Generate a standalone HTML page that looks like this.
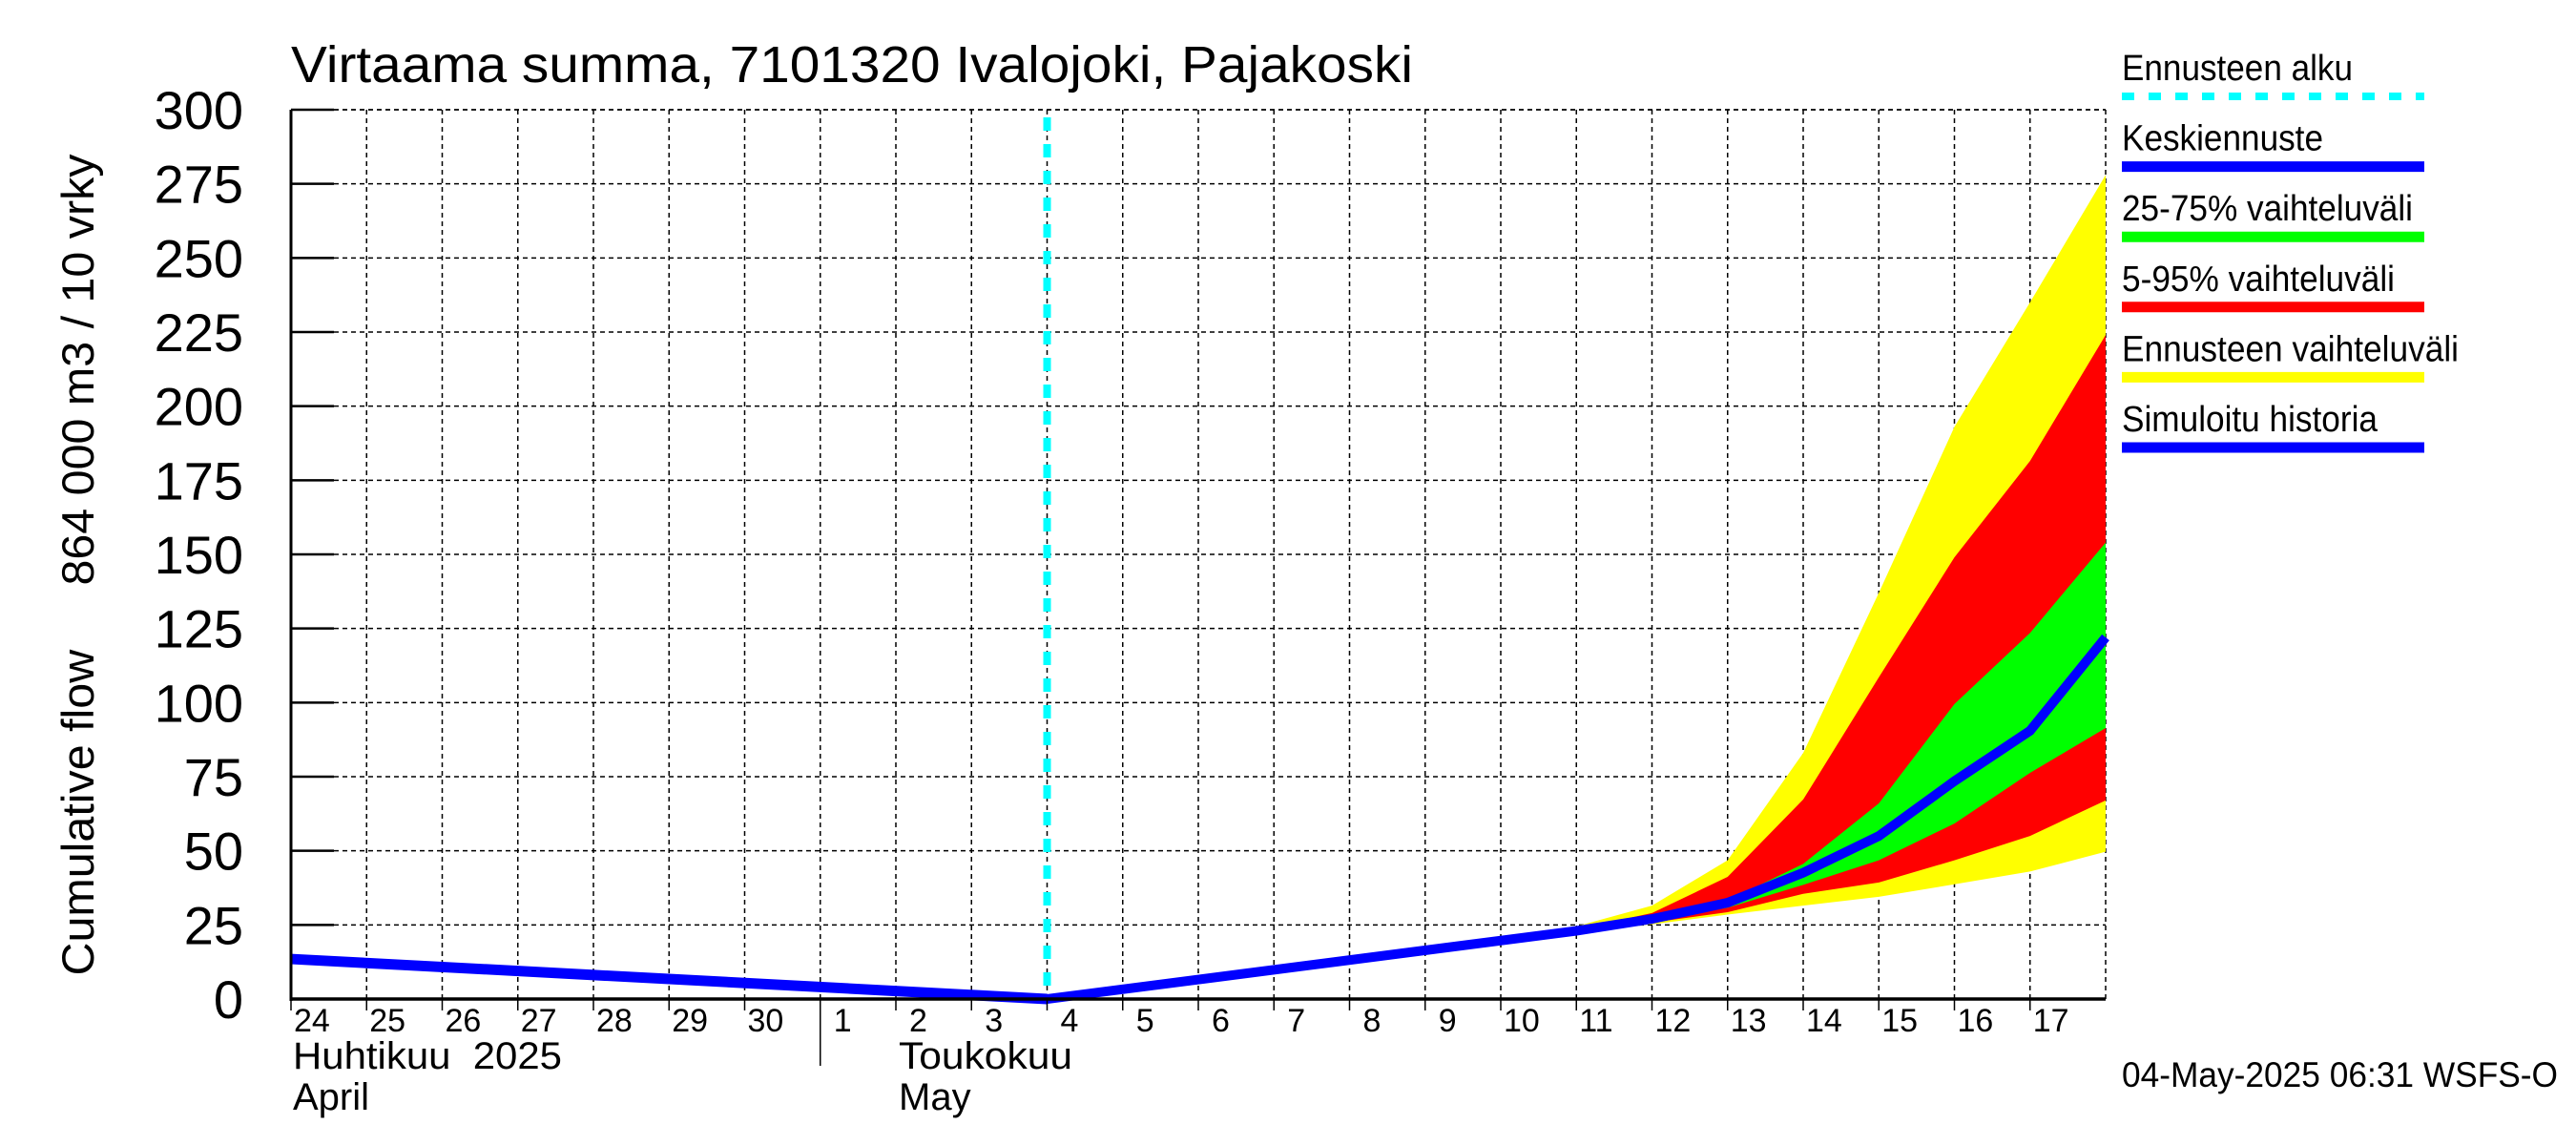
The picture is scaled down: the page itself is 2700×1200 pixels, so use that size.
<!DOCTYPE html>
<html><head><meta charset="utf-8"><style>
html,body{margin:0;padding:0;background:#fff;}
svg{display:block;font-family:"Liberation Sans",sans-serif;}
text{white-space:pre;}
</style></head><body>
<svg id="chart" width="2700" height="1200" viewBox="0 0 2700 1200" xmlns="http://www.w3.org/2000/svg">
<rect width="2700" height="1200" fill="#fff"/>
<g id="grid"></g>
<g id="bands"></g>
<g id="lines"></g>
<g id="axes"></g>
<text x="305" y="86" font-size="54" textLength="1176" lengthAdjust="spacingAndGlyphs">Virtaama summa, 7101320 Ivalojoki, Pajakoski</text>
<text transform="translate(98,592) rotate(-90)" text-anchor="middle" font-size="47" textLength="861" lengthAdjust="spacingAndGlyphs">Cumulative flow     864 000 m3 / 10 vrky</text>
<text x="307" y="1120" font-size="40" textLength="282" lengthAdjust="spacingAndGlyphs">Huhtikuu  2025</text>
<text x="307" y="1163" font-size="40">April</text>
<text x="942" y="1120" font-size="40" textLength="182" lengthAdjust="spacingAndGlyphs">Toukokuu</text>
<text x="942" y="1163" font-size="40">May</text>
<text x="2224" y="1139" font-size="37" textLength="457" lengthAdjust="spacingAndGlyphs">04-May-2025 06:31 WSFS-O</text>
<g id="legend"></g>
</svg>
<script>
// day index 0 = 24 April; 24 = 18 May 00:00
const dayLabels = ["24","25","26","27","28","29","30","1","2","3","4","5","6","7","8","9","10","11","12","13","14","15","16","17"];
const yTicks = [0,25,50,75,100,125,150,175,200,225,250,275,300];
const histDays = [0, 10];
const histVals = [13.5, 0];
const fcDays = [10, 17, 18, 19, 20, 21, 22, 23, 24];
const fcMedian = [0, 23, 27, 32.5, 42.6, 55, 73.5, 90.5, 122];
const yellowHi = [0, 24.5, 31.5, 46.8, 83, 137, 193, 235, 278];
const redHi = [0, 23.5, 29, 41.2, 67.3, 108.5, 149, 181.5, 224];
const greenHi = [0, 23, 27.5, 33.2, 45.6, 66, 99.5, 123.5, 154];
const greenLo = [0, 23, 26.5, 30.8, 38.5, 46.8, 59.2, 76.3, 91.4];
const redLo = [0, 23, 25.8, 29.3, 35.5, 39.3, 46.8, 55, 67];
const yellowLo = [0, 22.8, 25.2, 28.5, 31.5, 34.5, 38.7, 43, 49.7];
const forecastStartDay = 10;

const X0=305, X1=2207, Y0=1047, Y1=115, NDAYS=24, YMAX=300;
const xs = d => X0 + d*(X1-X0)/NDAYS;
const ys = v => Y0 - v*(Y0-Y1)/YMAX;
const NS="http://www.w3.org/2000/svg";
function mk(tag, attrs, parent){const e=document.createElementNS(NS,tag);for(const k in attrs)e.setAttribute(k,attrs[k]);parent.appendChild(e);return e;}
const grid=document.getElementById('grid'), bands=document.getElementById('bands'), lines=document.getElementById('lines'), axes=document.getElementById('axes'), legend=document.getElementById('legend');

yTicks.forEach(v=>{
  if(v>0){const l=mk('line',{x1:X0,x2:X1,y1:ys(v),y2:ys(v),stroke:'#000','stroke-width':1.5,'stroke-dasharray':'5,4'},grid);
  
  }
  const t=mk('line',{x1:X0,x2:X0+45,y1:ys(v),y2:ys(v),stroke:'#000','stroke-width':2.5},axes);
  
  
  const tx=mk('text',{x:255,y:ys(v)+20,'text-anchor':'end','font-size':56},axes);
  tx.textContent=v;
  
  
});
dayLabels.forEach((lab,i)=>{
  if(i>0){const l=mk('line',{x1:xs(i),x2:xs(i),y1:Y1,y2:Y0,stroke:'#000','stroke-width':1.5,'stroke-dasharray':'5,4'},grid);
  
  }
  const t=mk('line',{x1:xs(i),x2:xs(i),y1:Y0,y2:Y0+12,stroke:'#000','stroke-width':1.5},axes);
  
  
  const tx=mk('text',{x:xs(i)+(lab.length>1?3:14),y:1081,'font-size':34},axes);
  tx.textContent=lab;
  
  
});
const ml=mk('line',{x1:xs(7),x2:xs(7),y1:Y0,y2:1117,stroke:'#000','stroke-width':1.5},axes);


const rl=mk('line',{x1:X1,x2:X1,y1:Y1,y2:Y0,stroke:'#000','stroke-width':1.5,'stroke-dasharray':'5,4'},grid);


const tl=mk('line',{x1:X0,x2:X1,y1:Y1,y2:Y1,stroke:'#000','stroke-width':1.5,'stroke-dasharray':'5,4'},grid);


const la=mk('line',{x1:X0,x2:X0,y1:Y1,y2:Y0+2,stroke:'#000','stroke-width':3},axes);


const ba=mk('line',{x1:X0,x2:X1,y1:Y0,y2:Y0,stroke:'#000','stroke-width':3.5},axes);



function band(hi,lo,color,name){
  let pts=fcDays.map((d,i)=>xs(d)+','+ys(hi[i]));
  pts=pts.concat(fcDays.map((d,i)=>xs(d)+','+ys(lo[i])).reverse());
  const p=mk('polygon',{points:pts.join(' '),fill:color},bands);
  
  
}
band(yellowHi,yellowLo,'#ffff00','band-forecast-range');
band(redHi,redLo,'#ff0000','band-5-95');
band(greenHi,greenLo,'#00ff00','band-25-75');

const fl=mk('line',{x1:xs(forecastStartDay),x2:xs(forecastStartDay),y1:Y1+8,y2:Y0,stroke:'#00ffff','stroke-width':8,'stroke-dasharray':'14,14'},lines);


const hl=mk('polyline',{points:histDays.map((d,i)=>xs(d)+','+ys(histVals[i])).join(' '),fill:'none',stroke:'#0000ff','stroke-width':11},lines);


const ml2=mk('polyline',{points:fcDays.map((d,i)=>xs(d)+','+ys(fcMedian[i])).join(' '),fill:'none',stroke:'#0000ff','stroke-width':10},lines);



const legItems=[["Ennusteen alku","#00ffff",true,242],["Keskiennuste","#0000ff",false,211],["25-75% vaihteluväli","#00ff00",false,305],["5-95% vaihteluväli","#ff0000",false,286],["Ennusteen vaihteluväli","#ffff00",false,353],["Simuloitu historia","#0000ff",false,268]];
legItems.forEach((it,i)=>{
  const y=84+i*73.6;
  const t=mk('text',{x:2224,y:y,'font-size':38,textLength:it[3],lengthAdjust:'spacingAndGlyphs'},legend);
  t.textContent=it[0];
  
  
  const a={x1:2224,x2:2541,y1:y+17,y2:y+17,stroke:it[1],'stroke-width':it[2]?8:11};
  if(it[2])a['stroke-dasharray']='13,15';
  const l=mk('line',a,legend);
  
  
});
</script>
</body></html>
